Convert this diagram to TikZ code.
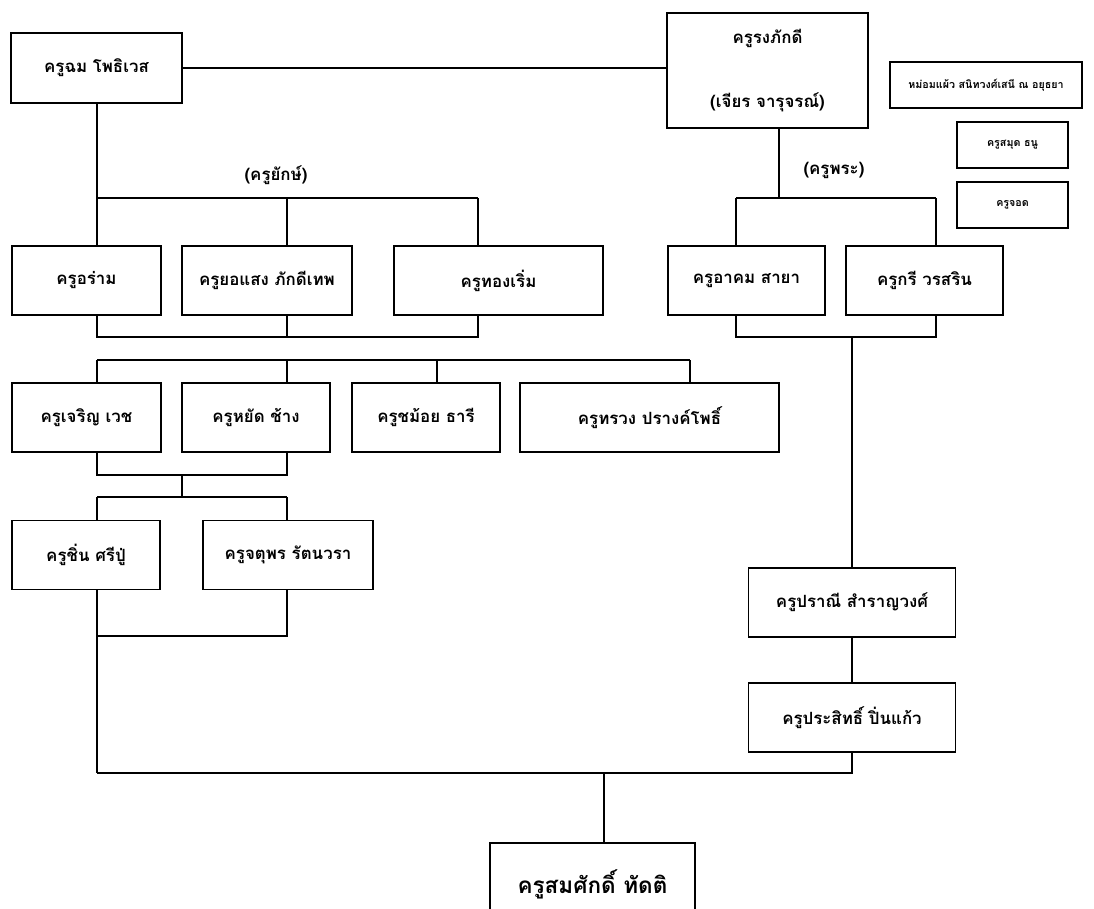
\documentclass[tikz,border=0pt]{standalone}
\usepackage{fontspec}
\newfontfamily\thaifont[Script=Thai]{Loma}
\usepackage{tikz}
\tikzstyle{box} = [draw, line width=1.1pt, inner sep=0pt, minimum height=1.725cm, align=center, font=\thaifont\bfseries\fontsize{12}{14}\selectfont]
\tikzstyle{note} = [draw, line width=1.1pt, inner sep=0pt, minimum height=1.15cm, font=\thaifont\bfseries\fontsize{7.6}{9}\selectfont]
\tikzstyle{tag} = [font=\thaifont\bfseries\fontsize{12}{14}\selectfont]
\tikzstyle{wire} = [line width=1.1pt]

\begin{document}
\begin{tikzpicture}[x=0.025cm, y=-0.025cm]
\useasboundingbox[fill=white] (0,0) rectangle (1094,909);

% top line
\node[box, minimum width=4.275cm, minimum height=1.75cm] (chom) at (96.5,68) {ครูฉม โพธิเวส};
\node[box, minimum width=5.025cm, minimum height=2.875cm] (rong) at (767.5,70.5) {ครูรงภักดี\\[32pt](เจียร จารุจรณ์)};
\node[note, minimum width=4.8cm] (mom) at (986,85) {หม่อมแผ้ว สนิทวงศ์เสนี ณ อยุธยา};
\node[note, minimum width=2.775cm] (samut) at (1012.5,145) {ครูสมุด ธนู};
\node[note, minimum width=2.775cm] (jot) at (1012.5,205) {ครูจอด};

% second row
\node[box, minimum width=3.725cm] (aram) at (86.5,280.5) {ครูอร่าม};
\node[box, minimum width=4.25cm] (yosaeng) at (267,280.5) {ครูยอแสง ภักดีเทพ};
\node[box, minimum width=5.225cm] (thong) at (498.5,280.5) {ครูทองเริ่ม};
\node[box, minimum width=3.925cm] (akhom) at (746.5,280.5) {ครูอาคม สายา};
\node[box, minimum width=3.925cm] (kri) at (924.5,280.5) {ครูกรี วรสริน};

% third row
\node[box, minimum width=3.725cm] (charoen) at (86.5,417.5) {ครูเจริญ เวช};
\node[box, minimum width=3.7cm] (yat) at (256,417.5) {ครูหยัด ช้าง};
\node[box, minimum width=3.7cm] (chamoi) at (426,417.5) {ครูชม้อย ธารี};
\node[box, minimum width=6.475cm] (suang) at (649.5,417.5) {ครูทรวง ปรางค์โพธิ์};

% fourth row
\node[box, minimum width=3.7cm] (chuen) at (86,555) {ครูชิ่น ศรีปู่};
\node[box, minimum width=4.25cm] (chatuporn) at (288,555) {ครูจตุพร รัตนวรา};
\node[box, minimum width=5.175cm] (pranee) at (852,602.5) {ครูปราณี สำราญวงศ์};
\node[box, minimum width=5.175cm] (prasit) at (852,717.5) {ครูประสิทธิ์ ปิ่นแก้ว};

\node[box, minimum width=5.125cm, minimum height=2.05cm, font=\thaifont\bfseries\fontsize{16}{18}\selectfont] (somsak) at (592.5,884) {ครูสมศักดิ์ ทัดติ};

\node[tag] (yak) at (276,175) {(ครูยักษ์)};
\node[tag] (phra) at (834,170) {(ครูพระ)};

% junctions
\coordinate (ka) at (97,198);
\coordinate (kb) at (287,198);
\coordinate (kc) at (478,198);
\coordinate (la) at (97,337);
\coordinate (lc) at (478,337);
\coordinate (ma) at (97,360);
\coordinate (mc) at (437,360);
\coordinate (md) at (690,360);
\coordinate (na) at (97,475);
\coordinate (nb) at (287,475);
\coordinate (nm) at (182,475);
\coordinate (oa) at (97,497);
\coordinate (ob) at (287,497);
\coordinate (pa) at (97,636);
\coordinate (pb) at (287,636);
\coordinate (qa) at (97,773);
\coordinate (qm) at (604,773);
\coordinate (rt) at (779,198);
\coordinate (ra) at (736,198);
\coordinate (rb) at (936,198);
\coordinate (sa) at (736,337);
\coordinate (sb) at (936,337);

% connectors
\draw[wire] (chom.east) -- (chom.east -| rong.west);
\draw[wire] (chom.south -| ka) -- (ka) -- (kc);
\draw[wire] (ka) -- (ka |- aram.north);
\draw[wire] (kb) -- (kb |- yosaeng.north);
\draw[wire] (kc) -- (kc |- thong.north);
\draw[wire] (la |- aram.south) -- (la) -- (lc) -- (lc |- thong.south);
\draw[wire] (kb |- yosaeng.south) -- (kb |- la);

\draw[wire] (ma) -- (md);
\draw[wire] (ma) -- (ma |- charoen.north);
\draw[wire] (kb |- ma) -- (kb |- yat.north);
\draw[wire] (mc) -- (mc |- chamoi.north);
\draw[wire] (md) -- (md |- suang.north);

\draw[wire] (na |- charoen.south) -- (na) -- (nb) -- (nb |- yat.south);
\draw[wire] (nm) -- (nm |- oa);
\draw[wire] (oa) -- (ob);
\draw[wire] (oa) -- (oa |- chuen.north);
\draw[wire] (ob) -- (ob |- chatuporn.north);
\draw[wire] (pa |- chuen.south) -- (qa);
\draw[wire] (pa) -- (pb) -- (pb |- chatuporn.south);

\draw[wire] (rt |- rong.south) -- (rt);
\draw[wire] (ra) -- (rb);
\draw[wire] (ra) -- (ra |- akhom.north);
\draw[wire] (rb) -- (rb |- kri.north);
\draw[wire] (sa |- akhom.south) -- (sa) -- (sb) -- (sb |- kri.south);
\draw[wire] (pranee.north |- sa) -- (pranee.north);
\draw[wire] (pranee.south) -- (prasit.north);
\draw[wire] (prasit.south) -- (prasit.south |- qa) -- (qa);
\draw[wire] (qm) -- (qm |- somsak.north);

\end{tikzpicture}
\end{document}
